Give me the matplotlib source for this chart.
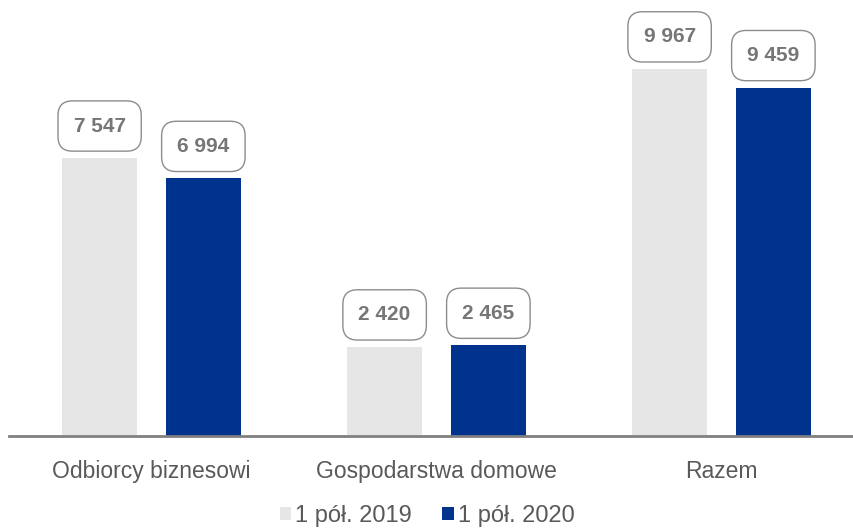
import numpy as np
import matplotlib.pyplot as plt

categories = ['Odbiorcy biznesowi', 'Gospodarstwa domowe', 'Razem']
series_names = ['1 pół. 2019', '1 pół. 2020']
values_2019 = [7547, 2420, 9967]
values_2020 = [6994, 2465, 9459]
labels_2019 = ['7 547', '2 420', '9 967']
labels_2020 = ['6 994', '2 465', '9 459']

plt.rcParams['font.family'] = ['Liberation Sans', 'DejaVu Sans']

fig = plt.figure(figsize=(8.54, 5.28), dpi=100)
ax = fig.add_axes([9 / 854, 1 - 436 / 528, 845 / 854, 436 / 528])

x = np.arange(len(categories))
w = 0.263
off = 0.182
b1 = ax.bar(x - off, values_2019, w, color='#e6e6e6', label=series_names[0])
b2 = ax.bar(x + off, values_2020, w, color='#00338d', label=series_names[1])

ax.set_xlim(-0.5, 2.465)
ax.set_ylim(0, 11835)

box = dict(boxstyle='round,pad=0.75,rounding_size=0.7', fc='white', ec='#8c8c8c', lw=1)
for bars, labs in [(b1, labels_2019), (b2, labels_2020)]:
    for bar, lab in zip(bars, labs):
        ax.annotate(lab, (bar.get_x() + bar.get_width() / 2, bar.get_height()),
                    xytext=(0, 23), textcoords='offset points', ha='center', va='center',
                    fontsize=15, fontweight='bold', color='#767676', bbox=box)

for s in ['top', 'right', 'left']:
    ax.spines[s].set_visible(False)
ax.spines['bottom'].set_color('#808080')
ax.spines['bottom'].set_linewidth(2)
ax.set_yticks([])
ax.set_xticks(x)
ax.set_xticklabels(categories, fontsize=16.5, color='#595959')
ax.tick_params(axis='x', length=0, pad=17)

fig.legend(loc='center', bbox_to_anchor=(0.5, 1 - 516 / 528), ncol=2, frameon=False,
           fontsize=17, labelcolor='#595959', handlelength=0.5, handleheight=0.5,
           handletextpad=0.15, columnspacing=1.3)

fig.savefig('out.png', dpi=100)
